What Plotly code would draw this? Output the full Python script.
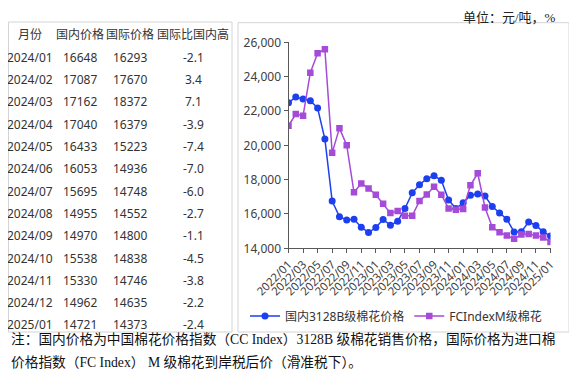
import plotly.graph_objects as go

# ---------------- data ----------------
months = [f"{y}/{m:02d}" for y in (2022, 2023, 2024) for m in range(1, 13)] + ["2025/01"]

domestic = [22480, 22810, 22700, 22600, 22170, 20360, 16750, 15840, 15650, 15690, 15230, 14920,
            15210, 15680, 15350, 15570, 16320, 17230, 17700, 18050, 18220, 17960, 16810, 16320,
            16648, 17087, 17162, 17040, 16433, 16053, 15695, 14955, 14970, 15538, 15330, 14962,
            14721]
international = [21140, 21820, 21720, 24230, 25360, 25590, 19560, 21000, 20010, 17260, 17780, 17490,
                 17120, 16600, 16050, 16170, 15890, 15890, 16760, 17140, 17580, 17120, 16320, 16240,
                 16293, 17670, 18372, 16379, 15223, 14936, 14748, 14552, 14800, 14838, 14746, 14635,
                 14373]

table_header = ["月份", "国内价格", "国际价格", "国际比国内高"]
table_months = ["2024/01", "2024/02", "2024/03", "2024/04", "2024/05", "2024/06", "2024/07",
                "2024/08", "2024/09", "2024/10", "2024/11", "2024/12", "2025/01"]
table_domestic = [16648, 17087, 17162, 17040, 16433, 16053, 15695, 14955, 14970, 15538, 15330, 14962, 14721]
table_intl = [16293, 17670, 18372, 16379, 15223, 14936, 14748, 14552, 14800, 14838, 14746, 14635, 14373]
table_diff = [-2.1, 3.4, 7.1, -3.9, -7.4, -7.0, -6.0, -2.7, -1.1, -4.5, -3.8, -2.2, -2.4]

series_names = ["国内3128B级棉花价格", "FCIndexM级棉花"]
unit_text = "单位：元/吨，%"
note_lines = ["注：国内价格为中国棉花价格指数（CC Index）3128B 级棉花销售价格，国际价格为进口棉",
              "价格指数（FC Index） M 级棉花到岸税后价（滑准税下）。"]

# ---------------- layout helpers ----------------
W, H = 577, 377
OX, OY = 8, 8   # page body margin offset of the plot div
def px(x):
    return max(x - OX, 0.5) / W
def py(y):
    return 1 - (y - OY) / H

BLUE = "#1c3ff0"
PURPLE = "#a64ad8"
SANS = "Noto Sans, Noto Sans CJK SC, sans-serif"
SERIF = "Liberation Serif, Noto Sans CJK SC, serif"
TXT = "#333333"

fig = go.Figure()

fig.add_trace(go.Scatter(
    x=months, y=domestic, name=series_names[0], mode="lines+markers",
    line=dict(color=BLUE, width=1.5),
    marker=dict(symbol="circle", size=7, color=BLUE),
))
fig.add_trace(go.Scatter(
    x=months, y=international, name=series_names[1], mode="lines+markers",
    line=dict(color=PURPLE, width=1.5),
    marker=dict(symbol="square", size=6.5, color=PURPLE),
))

fig.update_layout(
    width=W, height=H, autosize=False,
    margin=dict(l=0, r=0, t=0, b=0, pad=0),
    paper_bgcolor="white", plot_bgcolor="white",
    showlegend=True,
    legend=dict(orientation="h", x=px(245), y=py(316), xanchor="left", yanchor="middle",
                font=dict(family=SANS, size=12, color=TXT),
                bgcolor="rgba(0,0,0,0)", itemwidth=30, tracegroupgap=0),
    xaxis=dict(type="category", domain=[px(288.5), px(550.5)], range=[0, 36],
               tickmode="array", tickvals=months[::2], ticktext=months[::2],
               tickangle=-45, ticks="outside", ticklen=4, tickcolor="#595959",
               showline=True, linecolor="#595959", linewidth=1, showgrid=False,
               zeroline=False, anchor="y", automargin=False,
               tickfont=dict(family=SANS, size=11.5, color="#404040")),
    yaxis=dict(domain=[py(248.3), py(42.3)], range=[14000, 26000], dtick=2000,
               tickformat=",d", ticks="outside", ticklen=4, tickcolor="#595959",
               showline=True, linecolor="#595959", linewidth=1, showgrid=False,
               zeroline=False, automargin=False,
               tickfont=dict(family=SANS, size=12, color="#404040")),
)

# boxes
fig.add_shape(type="rect", xref="paper", yref="paper", layer="below",
              x0=px(5), x1=px(232), y0=py(332), y1=py(22),
              line=dict(color="#d4d4d4", width=1))
fig.add_shape(type="rect", xref="paper", yref="paper", layer="below",
              x0=px(238), x1=px(569), y0=py(332), y1=py(22.7),
              line=dict(color="#d4d4d4", width=1))

# table (text cells)
col_centers = [30, 80, 130, 193]
row0, row_step = 35, 22.3
columns = [table_months, table_domestic, table_intl,
           [f"{v:.1f}" for v in table_diff]]
for c, head in enumerate(table_header):
    fig.add_annotation(text=head, xref="paper", yref="paper",
                       x=px(col_centers[c]), y=py(row0), xanchor="center", yanchor="middle",
                       showarrow=False, font=dict(family=SANS, size=12, color=TXT))
    for r, val in enumerate(columns[c]):
        fig.add_annotation(text=str(val), xref="paper", yref="paper",
                           x=px(col_centers[c]), y=py(row0 + row_step * (r + 1)),
                           xanchor="center", yanchor="middle", showarrow=False,
                           font=dict(family=SANS, size=12, color=TXT))

# unit label (kept inside the figure's top edge)
fig.add_annotation(text=unit_text, xref="paper", yref="paper", x=px(558), y=py(8),
                   xanchor="right", yanchor="top", showarrow=False,
                   font=dict(family=SERIF, size=13, color="#222222"))
# footnote
for i, line in enumerate(note_lines):
    fig.add_annotation(text=line, xref="paper", yref="paper", x=px(8), y=py(339 + 23 * i),
                       xanchor="left", yanchor="middle", showarrow=False,
                       font=dict(family=SERIF, size=13.7, color="#111111"))

fig.write_html("out.html")
